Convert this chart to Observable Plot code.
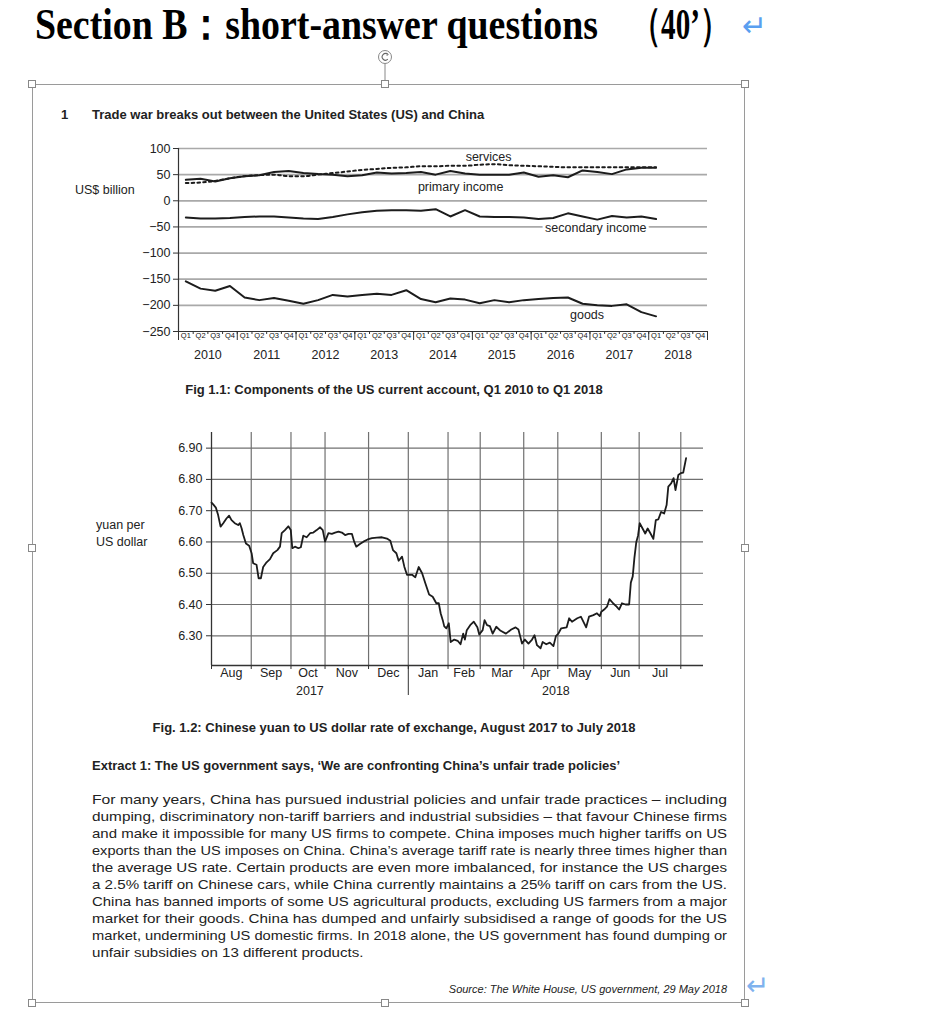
<!DOCTYPE html>
<html><head><meta charset="utf-8">
<script src="https://cdn.jsdelivr.net/npm/d3@7"></script>
<script src="https://cdn.jsdelivr.net/npm/@observablehq/plot@0.6"></script>
<style>
html,body{margin:0;padding:0;background:#fff}
body{width:951px;height:1024px;position:relative;overflow:hidden;font-family:"Liberation Sans",Arial,sans-serif;color:#222}
.abs{position:absolute;white-space:nowrap}
.b{font-weight:bold}
.handle{position:absolute;width:8px;height:8px;background:#fff;border:1px solid #888;box-sizing:border-box}
.para span{position:absolute;left:0;white-space:nowrap;transform-origin:left top}
</style></head><body>

<div id="title1" class="abs b" style="left:35px;top:3px;font-family:'Liberation Serif',serif;font-size:44px;line-height:44px;color:#000">Section B：short-answer questions</div>
<div id="title2" class="abs b" style="left:632px;top:3px;font-family:'Liberation Serif',serif;font-size:44px;line-height:44px;color:#000">（40’）</div>
<div class="abs" style="left:742px;top:8px;font-family:'DejaVu Sans';font-size:30px;color:#5a9ff0">↵</div>

<!-- selection frame decorations -->
<svg class="abs" style="left:376px;top:48px" width="20" height="38">
  <circle cx="9" cy="9" r="6.5" fill="#fff" stroke="#888" stroke-width="1"/>
  <path d="M11.6 6.3 A3.3 3.3 0 1 0 11.8 11.2" fill="none" stroke="#666" stroke-width="1.1"/>
  <path d="M10.6 5.2 L12.2 6.4 L10.8 7.8" fill="none" stroke="#666" stroke-width="1"/>
  <line x1="9" y1="15.5" x2="9" y2="36" stroke="#888"/>
</svg>
<div class="abs" style="left:32px;top:84px;width:713px;height:919px;border:1px solid #9a9a9a;box-sizing:border-box"></div>
<div class="handle" style="left:28px;top:80px"></div>
<div class="handle" style="left:381px;top:80px"></div>
<div class="handle" style="left:741px;top:80px"></div>
<div class="handle" style="left:28px;top:544px"></div>
<div class="handle" style="left:741px;top:544px"></div>
<div class="handle" style="left:28px;top:999px"></div>
<div class="handle" style="left:381px;top:999px"></div>
<div class="handle" style="left:741px;top:999px"></div>

<div class="abs b" style="left:61px;top:107px;font-size:13px">1</div>
<div class="abs b" style="left:92px;top:107px;font-size:13px">Trade war breaks out between the United States (US) and China</div>
<div class="abs" style="left:75px;top:183px;font-size:12.5px">US$ billion</div>
<div id="chart1" class="abs" style="left:0;top:140px"></div>
<div class="abs b" style="left:0;width:788px;text-align:center;top:382px;font-size:13px">Fig 1.1: Components of the US current account, Q1 2010 to Q1 2018</div>

<div class="abs" style="left:96px;top:517px;font-size:12.5px;line-height:17px">yuan per<br>US dollar</div>
<div id="chart2" class="abs" style="left:0;top:425px"></div>
<div class="abs b" style="left:0;width:788px;text-align:center;top:720px;font-size:13px">Fig. 1.2: Chinese yuan to US dollar rate of exchange, August 2017 to July 2018</div>

<div class="abs b" style="left:92px;top:758px;font-size:13px">Extract 1: The US government says, ‘We are confronting China’s unfair trade policies’</div>
<div id="para" class="abs para" style="left:92px;top:792px;width:635px;height:175px;font-size:13.6px;line-height:16px"></div>
<div class="abs" style="right:224px;top:983px;font-size:11px;font-style:italic">Source: The White House, US government, 29 May 2018</div>
<div class="abs" style="left:746px;top:969px;font-family:'DejaVu Sans';font-size:28px;color:#7fb2ee">↵</div>

<script>
// ---------- Fig 1.1 data (US$ billion, Q1 2010 ... Q1 2018) ----------
const quarterLabels = ["Q1", "Q2", "Q3", "Q4"];
const years = [2010, 2011, 2012, 2013, 2014, 2015, 2016, 2017, 2018];
const services = [34,35,38,43,47,49,50,47,47,50,53,56,59,61,63,64,66,66,67,67,69,70,68,67,66,65,64,64,64,64,64,64,64];
const primaryIncome = [40,42,37,43,47,49,55,57,53,51,50,47,49,54,52,53,55,50,57,52,50,50,50,54,46,49,45,58,55,51,60,63,63];
const secondaryIncome = [-32,-34,-34,-33,-31,-30,-30,-32,-34,-35,-31,-26,-22,-19,-18,-18,-19,-16,-30,-18,-30,-31,-31,-32,-35,-33,-24,-30,-36,-29,-32,-30,-35];
const goods = [-154,-168,-172,-163,-185,-190,-186,-191,-197,-190,-180,-183,-180,-178,-180,-171,-188,-194,-187,-189,-196,-190,-194,-190,-188,-186,-185,-197,-200,-201,-198,-213,-221];
const yTicks1 = [100, 50, 0, -50, -100, -150, -200, -250];
const seriesLabels = [
  {text: "services", q: 21.1, v: 84},
  {text: "primary income", q: 19.2, v: 26},
  {text: "secondary income", q: 28.4, v: -53},
  {text: "goods", q: 27.8, v: -219}
];

// ---------- Fig 1.2 data (yuan per US dollar, by trading day from 1 Aug 2017) ----------
const months = ["Aug", "Sep", "Oct", "Nov", "Dec", "Jan", "Feb", "Mar", "Apr", "May", "Jun", "Jul"];
const monthTradingDays = [21, 21, 18, 23, 21, 21, 17, 23, 18, 23, 20, 22];
const yTicks2 = [6.30, 6.40, 6.50, 6.60, 6.70, 6.80, 6.90];
const fxSeries = [
[0,6.726],[0.9,6.72],[2.3,6.71],[3.5,6.686],[4.8,6.649],[6.2,6.66],[7.9,6.675],[9.3,6.684],[10.6,6.67],[12.3,6.66],
[14.1,6.654],[15,6.66],[15.9,6.644],[16.8,6.622],[18.2,6.595],[19.9,6.588],[21.2,6.564],[22,6.532],[23.8,6.527],[24.9,6.484],
[26.1,6.484],[27.3,6.52],[29.1,6.535],[30.9,6.545],[32.6,6.564],[34.8,6.574],[36.2,6.585],[37.1,6.628],[38.8,6.638],[40.6,6.65],
[41.9,6.638],[42.7,6.58],[44.1,6.585],[45.9,6.58],[47.2,6.583],[48.5,6.62],[50.3,6.615],[52.1,6.628],[53.8,6.63],[55.6,6.638],
[57.4,6.647],[58.8,6.638],[60,6.601],[61.8,6.628],[63.6,6.626],[65.3,6.63],[67.1,6.633],[68.9,6.63],[70.6,6.622],[72.4,6.626],
[74.2,6.626],[75.4,6.601],[76.5,6.585],[78.6,6.594],[80.3,6.601],[82.5,6.608],[84.8,6.612],[87.4,6.614],[90.1,6.615],[92.7,6.611],
[94.5,6.604],[95.9,6.574],[97.7,6.564],[98.9,6.54],[100.7,6.553],[101.9,6.521],[103.3,6.495],[106,6.495],[107.7,6.487],[109.5,6.52],
[111.3,6.50],[113,6.468],[115,6.432],[116.9,6.425],[118.8,6.404],[120.1,6.404],[121.1,6.372],[122.2,6.35],[123,6.33],[124.1,6.324],
[125.4,6.34],[126.4,6.28],[128.3,6.288],[130.1,6.284],[131.6,6.273],[133,6.307],[133.9,6.288],[134.9,6.318],[136.7,6.334],[138.6,6.345],
[140.5,6.327],[141.5,6.304],[143.3,6.318],[144.3,6.35],[145.6,6.334],[147.1,6.331],[148.6,6.307],[150.5,6.329],[152.8,6.316],[155.6,6.307],
[158.4,6.32],[160.7,6.327],[162.2,6.32],[164.1,6.275],[165.6,6.288],[167.5,6.275],[169.4,6.288],[170.7,6.302],[172,6.27],[173.9,6.26],
[175,6.28],[176.9,6.273],[178.8,6.278],[180.7,6.267],[182,6.299],[183.3,6.307],[184.8,6.324],[187.7,6.327],[189,6.356],[190.5,6.345],
[193.3,6.356],[195.2,6.361],[196.5,6.345],[198,6.327],[199.5,6.361],[201.8,6.366],[203.7,6.372],[205.2,6.363],[206,6.377],[207.5,6.384],
[209,6.393],[210.3,6.417],[212.2,6.404],[214.1,6.393],[215.4,6.384],[216.9,6.404],[218.8,6.40],[220.7,6.40],[221.6,6.47],[222.6,6.49],
[223.5,6.55],[224.5,6.60],[225.4,6.62],[226.3,6.66],[227.8,6.643],[229.2,6.627],[230.5,6.643],[232,6.627],[233.5,6.61],[234.8,6.67],
[236.1,6.672],[237.6,6.696],[239.2,6.691],[240.5,6.718],[241.4,6.777],[242.9,6.787],[244.2,6.804],[245.2,6.766],[246.7,6.814],[248,6.82],
[249.3,6.822],[250.8,6.868]
];

// ---------- Extract text ----------
const extractLines = [
  "For many years, China has pursued industrial policies and unfair trade practices – including",
  "dumping, discriminatory non-tariff barriers and industrial subsidies – that favour Chinese firms",
  "and make it impossible for many US firms to compete. China imposes much higher tariffs on US",
  "exports than the US imposes on China. China’s average tariff rate is nearly three times higher than",
  "the average US rate. Certain products are even more imbalanced, for instance the US charges",
  "a 2.5% tariff on Chinese cars, while China currently maintains a 25% tariff on cars from the US.",
  "China has banned imports of some US agricultural products, excluding US farmers from a major",
  "market for their goods. China has dumped and unfairly subsidised a range of goods for the US",
  "market, undermining US domestic firms. In 2018 alone, the US government has found dumping or",
  "unfair subsidies on 13 different products."
];

// fit title widths like the condensed heading
function fitWidth(el, w) {
  const r = el.getBoundingClientRect().width;
  el.style.transformOrigin = "left top";
  el.style.transform = `scaleX(${w / r})`;
  return w / r;
}
fitWidth(document.getElementById("title1"), 563);
fitWidth(document.getElementById("title2"), 97);

// paragraph: each line condensed to fill the 635px column (justified look)
const para = document.getElementById("para");
let scales = [];
extractLines.forEach((t, i) => {
  const s = document.createElement("span");
  s.textContent = t;
  s.style.top = (i * 17) + "px";
  para.appendChild(s);
  if (i < extractLines.length - 1) scales.push(fitWidth(s, 635));
  else {
    const k = d3.mean(scales);
    s.style.transform = `scaleX(${k})`;
  }
});

// ---------- Chart 1 ----------
const seriesList = [
  {name: "services", values: services},
  {name: "primary income", values: primaryIncome},
  {name: "secondary income", values: secondaryIncome},
  {name: "goods", values: goods}
];
const rows1 = seriesList.flatMap(s => s.values.map((v, i) => ({series: s.name, q: i + 0.5, v})));
const nSlots = years.length * 4;
const ink = "#1c1c1c";

const chart1 = Plot.plot({
  width: 951, height: 226,
  marginLeft: 178, marginRight: 244, marginTop: 8, marginBottom: 35,
  style: {background: "transparent", fontFamily: "Liberation Sans, Arial, sans-serif", color: "#222", overflow: "visible"},
  x: {domain: [0, nSlots], axis: null},
  y: {domain: [-250, 100], axis: null},
  marks: [
    Plot.gridY(yTicks1.filter(d => d > -250), {stroke: "#a9a9a9", strokeOpacity: 1, strokeWidth: 1.7}),
    Plot.ruleY([-250], {stroke: "#333", strokeWidth: 1.2}),
    Plot.ruleX([0], {stroke: "#333", strokeWidth: 1.2}),
    Plot.axisY(yTicks1, {tickSize: 5, tickPadding: 3, fontSize: 12.5, stroke: "#333", label: null}),
    Plot.axisX(d3.range(nSlots + 1), {tickSize: 3, tickFormat: () => "", label: null, stroke: "#333"}),
    Plot.axisX(d3.range(0, nSlots + 1, 4), {tickSize: 9, tickFormat: () => "", label: null, stroke: "#333"}),
    Plot.axisX(d3.range(nSlots).map(i => i + 0.5), {tickSize: 0, tickPadding: 1, fontSize: 7.5, label: null, fill: "#111",
      tickFormat: d => quarterLabels[Math.floor(d) % 4]}),
    Plot.axisX(years.map((y, k) => k * 4 + 2), {tickSize: 0, tickPadding: 19, fontSize: 12.5, label: null,
      tickFormat: d => String(years[(d - 2) / 4])}),
    Plot.text(seriesLabels.filter(d => d.text === "secondary income"), {x: "q", y: "v", text: "text", fontSize: 12.5, fill: "#222", stroke: "white", strokeWidth: 6}),
    Plot.text(seriesLabels.filter(d => d.text !== "secondary income"), {x: "q", y: "v", text: "text", fontSize: 12.5, fill: "#222"}),
    Plot.line(rows1.filter(d => d.series === "services"), {x: "q", y: "v", stroke: ink, strokeWidth: 2, strokeDasharray: "2.6,3.2", curve: "monotone-x"}),
    Plot.line(rows1.filter(d => d.series !== "services"), {x: "q", y: "v", z: "series", stroke: ink, strokeWidth: 2})
  ]
});
document.getElementById("chart1").appendChild(chart1);

// ---------- Chart 2 ----------
const monthStarts = d3.cumsum([0, ...monthTradingDays]);   // 0 .. 248
const monthMids = months.map((m, i) => (monthStarts[i] + monthStarts[i + 1]) / 2);
const yearBreak = monthStarts[5];          // 1 Jan 2018
const xMax2 = 260;
const yMin2 = 6.205, yMax2 = 6.95;
const yearLabels = [{year: "2017", at: yearBreak / 2}, {year: "2018", at: (yearBreak + xMax2) / 2}];
const rows2 = fxSeries.map(([day, rate]) => ({day, rate}));

const chart2 = Plot.plot({
  width: 951, height: 275,
  marginLeft: 211, marginRight: 248, marginTop: 7, marginBottom: 35,
  style: {background: "transparent", fontFamily: "Liberation Sans, Arial, sans-serif", color: "#222", overflow: "visible"},
  x: {domain: [0, xMax2], axis: null},
  y: {domain: [yMin2, yMax2], axis: null},
  marks: [
    Plot.gridY(yTicks2, {stroke: "#707070", strokeOpacity: 1, strokeWidth: 1.2}),
    Plot.ruleX(monthStarts.slice(1), {stroke: "#707070", strokeWidth: 1.2}),
    Plot.ruleY([yMin2], {stroke: "#333", strokeWidth: 1.3}),
    Plot.ruleX([0], {stroke: "#333", strokeWidth: 1.3}),
    Plot.axisY(yTicks2, {tickSize: 5, tickPadding: 4, fontSize: 12.5, stroke: "#333", label: null, tickFormat: d3.format(".2f")}),
    Plot.axisX(monthStarts, {tickSize: 4, tickFormat: () => "", label: null, stroke: "#333"}),
    Plot.axisX([yearBreak], {tickSize: 30, tickFormat: () => "", label: null, stroke: "#333"}),
    Plot.axisX(monthMids, {tickSize: 0, tickPadding: 3, fontSize: 12.5, label: null,
      tickFormat: d => months[monthMids.indexOf(d)]}),
    Plot.axisX(yearLabels.map(d => d.at), {tickSize: 0, tickPadding: 21, fontSize: 12.5, label: null,
      tickFormat: d => yearLabels.find(e => e.at === d).year}),
    Plot.line(rows2, {x: "day", y: "rate", stroke: ink, strokeWidth: 1.8})
  ]
});
document.getElementById("chart2").appendChild(chart2);
</script>
</body></html>
